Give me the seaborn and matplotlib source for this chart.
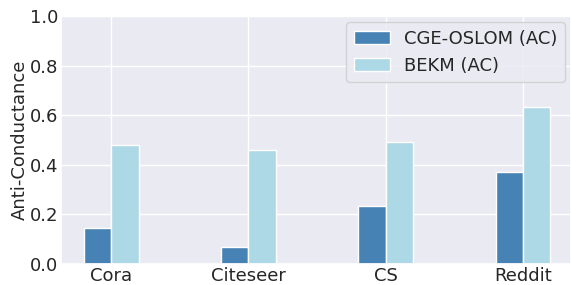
import pandas as pd
import seaborn as sns
import matplotlib.pyplot as plt

datasets = ['Cora', 'Citeseer', 'CS', 'Reddit']
cge_oslom = [0.145, 0.069, 0.235, 0.371]
bekm = [0.478, 0.461, 0.492, 0.633]
methods = ['CGE-OSLOM (AC)', 'BEKM (AC)']

df = pd.DataFrame({
    'dataset': datasets * 2,
    'value': cge_oslom + bekm,
    'method': [methods[0]] * len(datasets) + [methods[1]] * len(datasets),
})

sns.set_theme(style='darkgrid')
plt.rcParams['font.family'] = ['DejaVu Sans']

fig, ax = plt.subplots(figsize=(5.71, 2.85), dpi=100)
sns.barplot(data=df, x='dataset', y='value', hue='method', order=datasets,
            hue_order=methods, palette=['steelblue', 'lightblue'],
            saturation=1, width=0.4, edgecolor='white', linewidth=1, ax=ax)

ax.set_xlim(-0.365, 3.35)
ax.set_ylim(0, 1.0)
ax.xaxis.grid(True)
ax.set_axisbelow(True)
ax.set_xlabel('')
ax.set_ylabel('Anti-Conductance', fontsize=13, labelpad=1)
ax.tick_params(axis='both', labelsize=13, pad=2, length=0)
ax.legend(loc='upper right', fontsize=13, borderaxespad=0.35)

fig.subplots_adjust(left=0.107, right=1.0, top=0.944, bottom=0.074)
fig.savefig('out.png', dpi=100)
plt.close()
